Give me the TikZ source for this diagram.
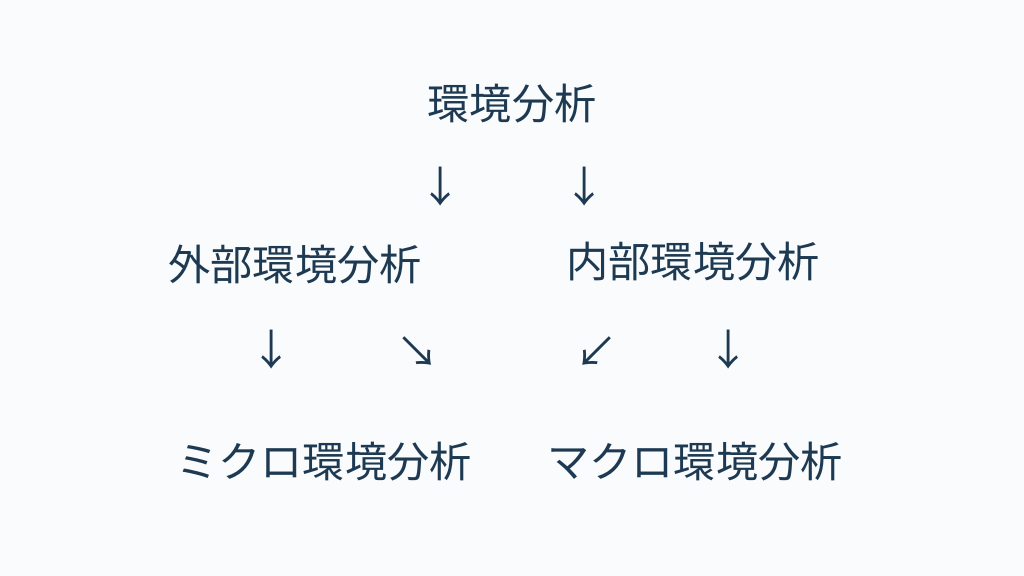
\documentclass[tikz,border=0pt]{standalone}
\usepackage{fontspec}
\usepackage{xcolor}
\usepackage{tikz}
\newfontfamily\jpfont{Noto Sans CJK JP}
\definecolor{bgcol}{HTML}{FAFBFC}
\definecolor{inkcol}{HTML}{1E3A52}
\tikzset{
	term/.style={text=inkcol, font=\jpfont\fontsize{12}{14}\selectfont, inner sep=0pt},
	arrowglyph/.style={text=inkcol, font=\jpfont\fontsize{12}{14}\selectfont, inner sep=0pt}
}

\begin{document}
\begin{tikzpicture}[x=0.01cm, y=-0.01cm]
				\fill[bgcol] (0,0) rectangle (1024,576);
				\useasboundingbox (0,0) rectangle (1024,576);
				
				% terms
				\node[term] (env) at (512,104){環境分析};
				\node[term] (ext) at (295,265){外部環境分析};
				\node[term] (int) at (693,262){内部環境分析};
				\node[term] (micro) at (324,462){ミクロ環境分析};
				\node[term] (macro) at (695,462){マクロ環境分析};
				
				% arrows
				\foreach \x/\y/\z/\g in
				{a1/441/187/↓, a2/585/187/↓, b1/272/350/↓, b2/418/352/↘, b3/597/352/↙, b4/729/350/↓}{
					\node[arrowglyph] (\x) at (\y,\z){\g};
				}
			\end{tikzpicture}
\end{document}
